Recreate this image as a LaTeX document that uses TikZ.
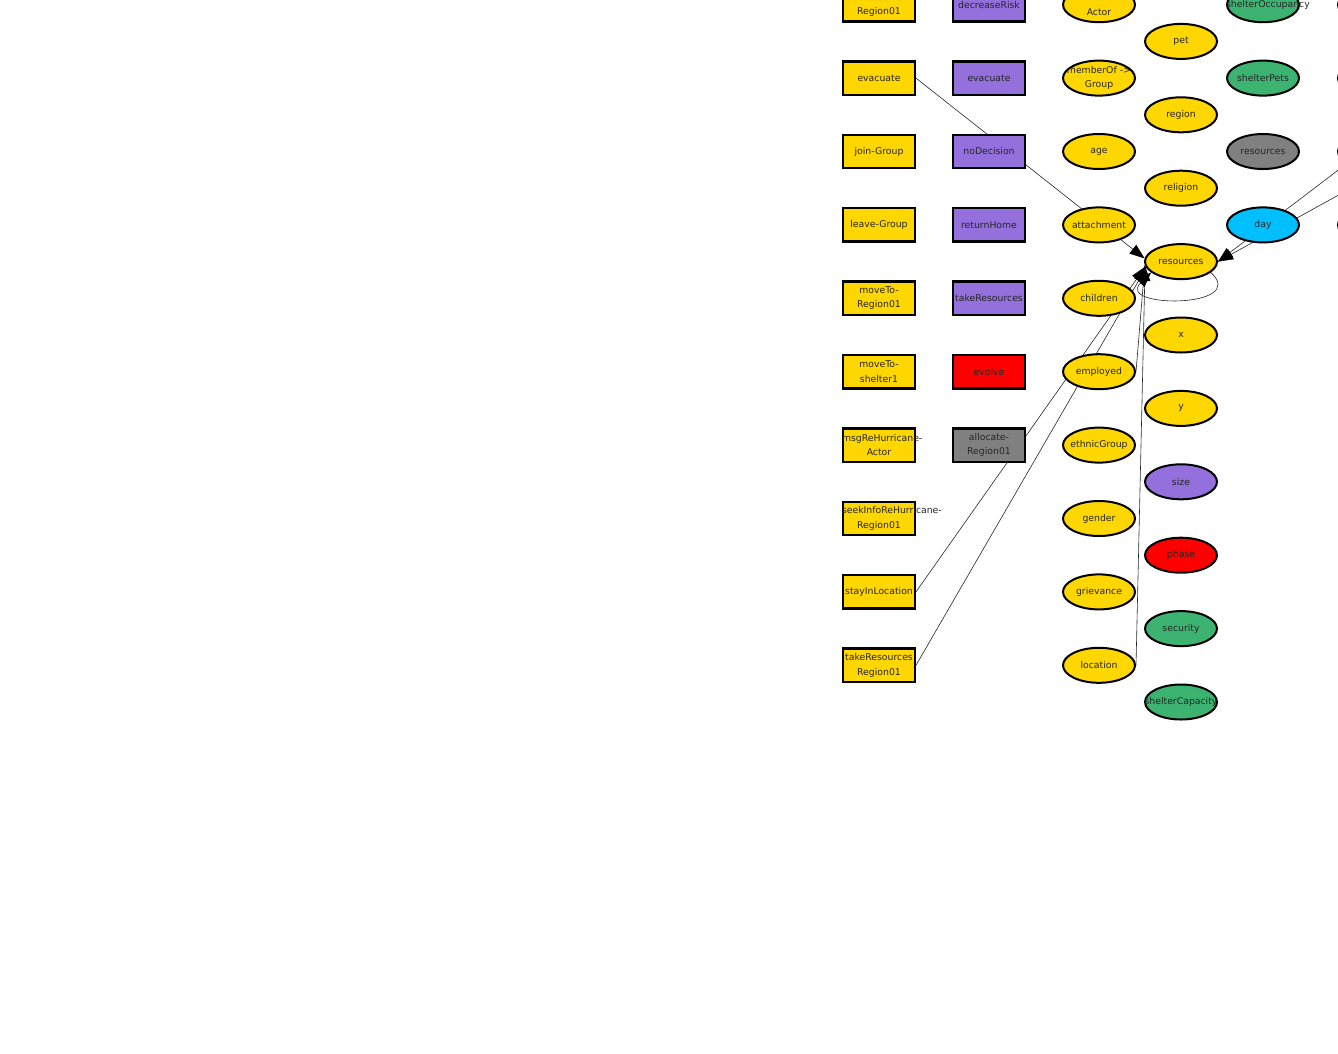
\documentclass[tikz,border=0pt]{standalone}
\usepackage{fontspec}
\setmainfont{DejaVu Sans}
\usetikzlibrary{arrows.meta,shapes.geometric}
\pgfdeclarelayer{bg}
\pgfsetlayers{bg,main}
\hyphenpenalty=10000
\exhyphenpenalty=10000
\definecolor{cyel}{HTML}{FFD700}
\definecolor{cpur}{HTML}{9370DB}
\definecolor{cred}{HTML}{FF0000}
\definecolor{cgry}{HTML}{808080}
\definecolor{cgrn}{HTML}{3CB371}
\definecolor{cblu}{HTML}{00BFFF}
\tikzset{
  txt/.style={text width=74pt, align=center, inner sep=0pt, text=black!85,
    font=\fontsize{9.3}{14.5}\selectfont},
  box/.style={draw=black, line width=2.4pt, rectangle, minimum width=71.5pt,
    minimum height=33.5pt, inner sep=0pt, label={[txt]center:{#1}}},
  oval/.style={draw=black, line width=2pt, ellipse, minimum width=72pt,
    minimum height=35pt, inner sep=0pt, label={[txt]center:{#1}}},
  stub/.style={draw=black, line width=2pt, ellipse, minimum width=72pt,
    minimum height=35pt, inner sep=0pt, fill=white},
  link/.style={line width=0.6pt, draw=black!85, -{Triangle[length=15pt,width=11pt,color=black]}}
}
\begin{document}
\begin{tikzpicture}[x=1pt,y=-1pt]
\useasboundingbox (0,0) rectangle (1338,1053);
\clip (0,0) rectangle (1338,1053);
% column 1
\node[box={decreaseRisk-\\Region01}, fill=cyel] (a0) at (879,4.7) {};
\node[box={evacuate}, fill=cyel] (a1) at (879,78.1) {};
\node[box={join-Group}, fill=cyel] (a2) at (879,151.5) {};
\node[box={leave-Group}, fill=cyel] (a3) at (879,224.9) {};
\node[box={moveTo-\\Region01}, fill=cyel] (a4) at (879,298.3) {};
\node[box={moveTo-\\shelter1}, fill=cyel] (a5) at (879,371.7) {};
\node[box={msgReHurricane-\\Actor}, fill=cyel] (a6) at (879,445.1) {};
\node[box={seekInfoReHurricane-\\Region01}, fill=cyel] (a7) at (879,518.5) {};
\node[box={stayInLocation}, fill=cyel] (a8) at (879,591.9) {};
\node[box={takeResources\\Region01}, fill=cyel] (a9) at (879,665.3) {};
% column 2
\node[box={decreaseRisk}, fill=cpur] (b0) at (989,4.7) {};
\node[box={evacuate}, fill=cpur] (b1) at (989,78.1) {};
\node[box={noDecision}, fill=cpur] (b2) at (989,151.5) {};
\node[box={returnHome}, fill=cpur] (b3) at (989,224.9) {};
\node[box={takeResources}, fill=cpur] (b4) at (989,298.3) {};
\node[box={evolve}, fill=cred] (b5) at (989,371.7) {};
\node[box={allocate-\\Region01}, fill=cgry] (b6) at (989,445.1) {};
% column 3
\node[oval={memberOf ->\\Actor}, fill=cyel] (c0) at (1099,4.7) {};
\node[oval={memberOf ->\\Group}, fill=cyel] (c1) at (1099,78.1) {};
\node[oval={age}, fill=cyel] (c2) at (1099,151.5) {};
\node[oval={attachment}, fill=cyel] (c3) at (1099,224.9) {};
\node[oval={children}, fill=cyel] (c4) at (1099,298.3) {};
\node[oval={employed}, fill=cyel] (c5) at (1099,371.7) {};
\node[oval={ethnicGroup}, fill=cyel] (c6) at (1099,445.1) {};
\node[oval={gender}, fill=cyel] (c7) at (1099,518.5) {};
\node[oval={grievance}, fill=cyel] (c8) at (1099,591.9) {};
\node[oval={location}, fill=cyel] (c9) at (1099,665.3) {};
% column 4
\node[oval={pet}, fill=cyel] (d0) at (1181,41.4) {};
\node[oval={region}, fill=cyel] (d1) at (1181,114.8) {};
\node[oval={religion}, fill=cyel] (d2) at (1181,188.2) {};
\node[oval={resources}, fill=cyel] (r4) at (1181,261.6) {};
\node[oval={x}, fill=cyel] (d4) at (1181,335) {};
\node[oval={y}, fill=cyel] (d5) at (1181,408.4) {};
\node[oval={size}, fill=cpur] (d6) at (1181,481.8) {};
\node[oval={phase}, fill=cred] (d7) at (1181,555.2) {};
\node[oval={security}, fill=cgrn] (d8) at (1181,628.6) {};
\node[oval={shelterCapacity}, fill=cgrn] (d9) at (1181,702) {};
% column 5
\node[oval={shelterOccupancy}, fill=cgrn] (e0) at (1263,4.7) {};
\node[oval={shelterPets}, fill=cgrn] (e1) at (1263,78.1) {};
\node[oval={resources}, fill=cgry] (e2) at (1263,151.5) {};
\node[oval={day}, fill=cblu] (e3) at (1263,224.9) {};
% column 6 (cut off at the right edge)
\node[stub] (f0) at (1374,4.7) {};
\node[stub] (f1) at (1374,78.1) {};
\node[stub] (f2) at (1374,151.5) {};
\node[stub] (f3) at (1374,224.9) {};
\coordinate (offA) at (1400,123);
\coordinate (offB) at (1420,150);
\begin{pgfonlayer}{bg}
\draw[link] (a1.east) -- (r4.175);
\draw[link] (a8.east) -- (r4.188);
\draw[link] (a9.east) -- (r4.190);
\draw[link] (c5.east) -- (r4.186);
\draw[link] (c9.east) -- (r4.187);
\draw[link] (offA) -- (r4.east);
\draw[link] (offB) -- (r4.east);
\draw[link] (r4.-20) .. controls +(39,36) and +(-36,36) .. (r4.200);
\end{pgfonlayer}
\end{tikzpicture}
\end{document}
